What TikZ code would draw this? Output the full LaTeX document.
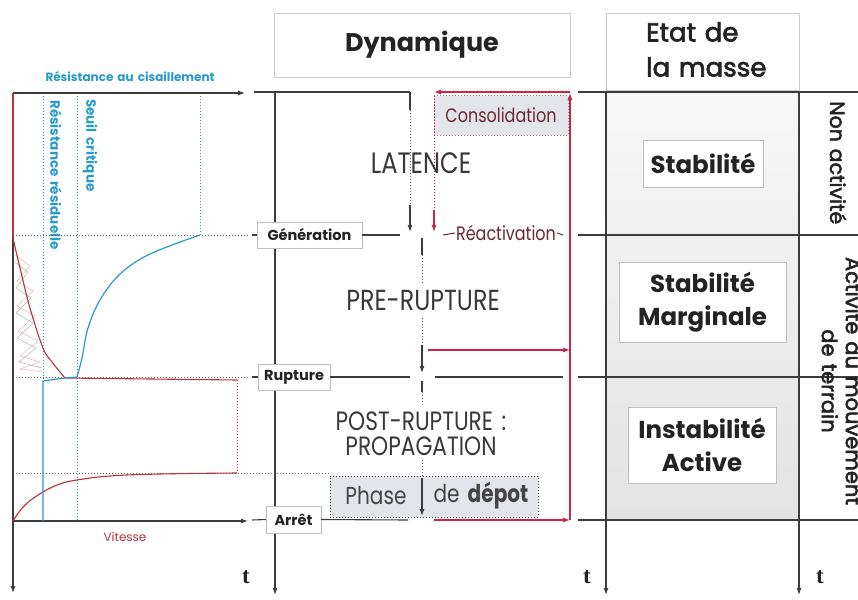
\documentclass[tikz,border=0pt]{standalone}
\usepackage{fontspec}
\setmainfont{Poppins}[WordSpace=1.6]
\newfontfamily\cond{Poppins}[FakeStretch=0.82, WordSpace=1.5]
\newfontfamily\med{Poppins}[FakeBold=2.5, WordSpace=1.25]
\newfontfamily\tfont{Liberation Serif}
\usetikzlibrary{arrows.meta}
\definecolor{cy}{RGB}{40,155,200}
\definecolor{rd}{RGB}{185,50,55}
\definecolor{ra}{RGB}{205,35,70}
\definecolor{ln}{RGB}{60,60,60}
\definecolor{ctext}{RGB}{110,40,50}
\definecolor{boxfill}{RGB}{226,229,234}
\definecolor{txt}{RGB}{35,35,35}
\newcommand\fsz[2]{\fontsize{#1}{#2}\selectfont}
\tikzset{
  ax/.style={draw=ln, line width=1.1pt},
  axarr/.style={ax, -{Latex[length=7pt,width=5pt]}},
  redarr/.style={draw=ra, line width=1.1pt, -{Latex[length=7pt,width=5pt]}},
  lbl/.style={draw=black!25, fill=white, font=\bfseries\fsz{14.5}{14.5}, text=txt, inner sep=0pt},
  dotg/.style={draw=ln!80, line width=1pt, dotted},
  dotc/.style={draw=cy, line width=1pt, dotted},
  etat/.style={draw=black!25, fill=white, font=\bfseries\fsz{24.5}{32.5}, text=txt, align=center},
  phase/.style={font=\cond\fsz{29}{25}, text=txt!90, align=center},
}
\begin{document}
\begin{tikzpicture}[x=1pt,y=-1pt]
\useasboundingbox (0,0) rectangle (858,599);
\fill[white] (0,0) rectangle (858,599);

% ---------- right column background
\fill[top color=black!3, bottom color=black!11] (606,92) rectangle (799,520);

% ---------- header boxes
\node[draw=black!20, minimum width=296, minimum height=64, font=\bfseries\fsz{25.5}{25.5}, text=txt] (dyn) at (422,45) {Dynamique};
\node[draw=black!20, minimum width=193, minimum height=77, text=txt] (etat) at (702.5,51.5) {};
\node[font=\med\fsz{26}{35}, text=txt, align=left, anchor=north west, inner sep=0pt] (etatt) at (646,22) {Etat de\\la masse};

% ---------- left graph
\node[font=\bfseries\fsz{12}{12}, text=cy] (res) at (130,77) {Résistance au cisaillement};
\node[font=\fsz{12}{12}, text=rd] (vit) at (125,537) {Vitesse};
\node[font=\bfseries\fsz{13.5}{13.5}, text=cy, rotate=-90, anchor=west, inner sep=0pt] (rr) at (56,100) {Résistance résiduelle};
\node[font=\bfseries\fsz{13.5}{13.5}, text=cy, rotate=-90, anchor=west, inner sep=0pt] (sc) at (90,99) {Seuil critique};

\coordinate (o1) at (13,93);
\coordinate (o1x) at (245,93);
\coordinate (o1y) at (13,593);
\coordinate (o2) at (13,521);
\coordinate (o2x) at (248,521);

% horizontal dotted level lines
\draw[dotg] (13,235) -- (248,235);
\draw[dotg] (13,377) -- (248,377);
\draw[dotg] (13,473) -- (330,473);

% cyan dotted verticals
\draw[dotc] (43,93) -- (43,381);
\draw[dotc] (77,93) -- (77,521);
\draw[dotc] (200,93) -- (200,235);
% red dotted vertical
\draw[draw=rd, line width=1pt, dotted] (237,380) -- (237,473);

% zigzag
\draw[draw=rd!35, line width=0.5pt] (15,255) -- (30,266) -- (17,281) -- (33,291) -- (17,306) -- (35,316) -- (18,331) -- (38,341) -- (20,356) -- (40,362) -- (20,369) -- (43,372);
\draw[draw=black!30, line width=0.5pt] (15,262) -- (28,272) -- (16,288) -- (31,298) -- (16,313) -- (33,323) -- (17,338) -- (36,348) -- (19,362) -- (42,368);

% axes
\draw[axarr] (o1) -- (o1y);
\draw[axarr] (o1) -- (o1x);
\draw[axarr] (o2) -- (o2x);

% red curves
\draw[draw=rd, line width=1.1pt] (13,93) -- (13,238);
\draw[draw=rd, line width=1.1pt] plot[smooth, tension=0.6] coordinates {(13,238) (20,268) (30,308) (43,348) (52,362) (65,378)} -- (237,380);
\draw[draw=rd, line width=1.1pt] plot[smooth, tension=0.7] coordinates {(13,521) (25,505) (43,492) (60,484) (77,480) (110,476) (160,474) (237,473)};
% cyan curves
\draw[draw=cy, line width=1.2pt] (43,521) -- (43,381) -- (65,378) -- (77,377);
\draw[draw=cy, line width=1.2pt] plot[smooth, tension=0.6] coordinates {(77,377) (82,358) (88,328) (100,300) (120,274) (150,254) (200,235)};

% ---------- central column
\draw[axarr] (275,92) -- (275,595);
\draw[ax] (254,92) -- (410,92);

% consolidation box
\node[fill=boxfill, draw=rd!60!black!60, dotted, line width=1pt, minimum width=134, minimum height=39, font=\cond\fsz{19.5}{19.5}, text=ctext] (cons) at (501,115.5) {Consolidation};

% red loop
\coordinate (rb) at (570,520);
\coordinate (rt) at (570,92);
\draw[redarr] (434,520) -- (rb);
\draw[redarr] (rb) -- (570,93);
\draw[redarr] (rt) -- (434,92);
\draw[draw=ra, line width=1pt, dotted] (434,96) -- (434,210);
\draw[redarr] (434,210) -- (434,232);
\draw[redarr] (428,350) -- (570,350);

% latence
\node[phase, font=\cond\fsz{29.5}{29.5}] (lat) at (421,163) {LATENCE};
\draw[ax] (410,92) -- (410,110);
\draw[dotg] (410,110) -- (410,205);
\draw[axarr] (410,205) -- (410,232);

% generation
\node[lbl, minimum width=105, minimum height=26] (gen) at (309.5,235) {Génération};
\draw[ax] (252,235) -- (gen.west);
\draw[ax] (gen.east) -- (400,235);
\node[font=\cond\fsz{19.5}{19.5}, text=ctext, inner sep=1pt] (reac) at (506,233) {Réactivation};
\draw[draw=ctext, line width=1pt] (443,235) -- (reac.west);
\draw[draw=ctext, line width=1pt] (reac.east) -- (563,235);

% pre-rupture
\node[phase] (pre) at (423,300) {PRE-RUPTURE};
\draw[ax] (422,238) -- (422,255);
\draw[dotg] (422,255) -- (422,283);
\draw[dotg] (422,318) -- (422,345);
\draw[axarr] (422,345) -- (422,373);

% rupture
\node[lbl, minimum width=72, minimum height=26] (rup) at (294,377) {Rupture};
\draw[ax] (252,377) -- (rup.west);
\draw[ax] (rup.east) -- (410,377);
\draw[ax] (435,377) -- (563,377);

% post-rupture
\draw[ax] (422,381) -- (422,392);
\draw[dotg] (422,392) -- (422,405);
\node[phase, font=\cond\fsz{26.5}{25}] (post) at (421,434) {POST-RUPTURE :\\PROPAGATION};

% phase de depot
\node[fill=boxfill, draw=ln, dotted, line width=1pt, minimum width=208, minimum height=41] (dep) at (434,496.5) {};
\node[font=\cond\fsz{24.5}{24.5}, text=txt!85] (ph) at (376,496) {Phase};
\node[font=\cond\fsz{24.5}{24.5}, text=txt!85] (dd) at (481,496) {de \textbf{dépot}};
\draw[dotg] (422,460) -- (422,478);
\draw[axarr] (422,478) -- (422,516);

% arret
\node[lbl, minimum width=55, minimum height=27] (arr) at (293.5,519.5) {Arrêt};
\draw[ax] (252,520) -- (arr.west);
\draw[ax] (arr.east) -- (408,520);

% ---------- right column
\draw[ax] (578,92) -- (858,92);
\draw[ax] (578,235) -- (858,235);
\draw[ax] (578,377) -- (858,377);
\draw[ax] (578,520) -- (858,520);
\draw[axarr] (606,92) -- (606,595);
\draw[axarr] (799,92) -- (799,595);

\node[etat, minimum width=120, minimum height=47] (s1) at (703,163.5) {Stabilité};
\node[etat, minimum width=167, minimum height=80] (s2) at (702.5,302) {Stabilité\\Marginale};
\node[etat, minimum width=148, minimum height=76] (s3) at (702,445) {Instabilité\\Active};

\node[font=\med\fsz{20.5}{20.5}, text=txt, rotate=-90, anchor=west, inner sep=0pt] (na) at (838,101) {Non activité};
\node[font=\med\fsz{21}{24}, text=txt, rotate=-90, align=center] (act) at (842,381) {Activité au mouvement\\de terrain};

% t labels
\node[font=\tfont\bfseries\fsz{23}{23}, text=txt] (t1) at (246,577) {t};
\node[font=\tfont\bfseries\fsz{23}{23}, text=txt] (t2) at (587,577) {t};
\node[font=\tfont\bfseries\fsz{23}{23}, text=txt] (t3) at (820,577) {t};
\end{tikzpicture}
\end{document}
